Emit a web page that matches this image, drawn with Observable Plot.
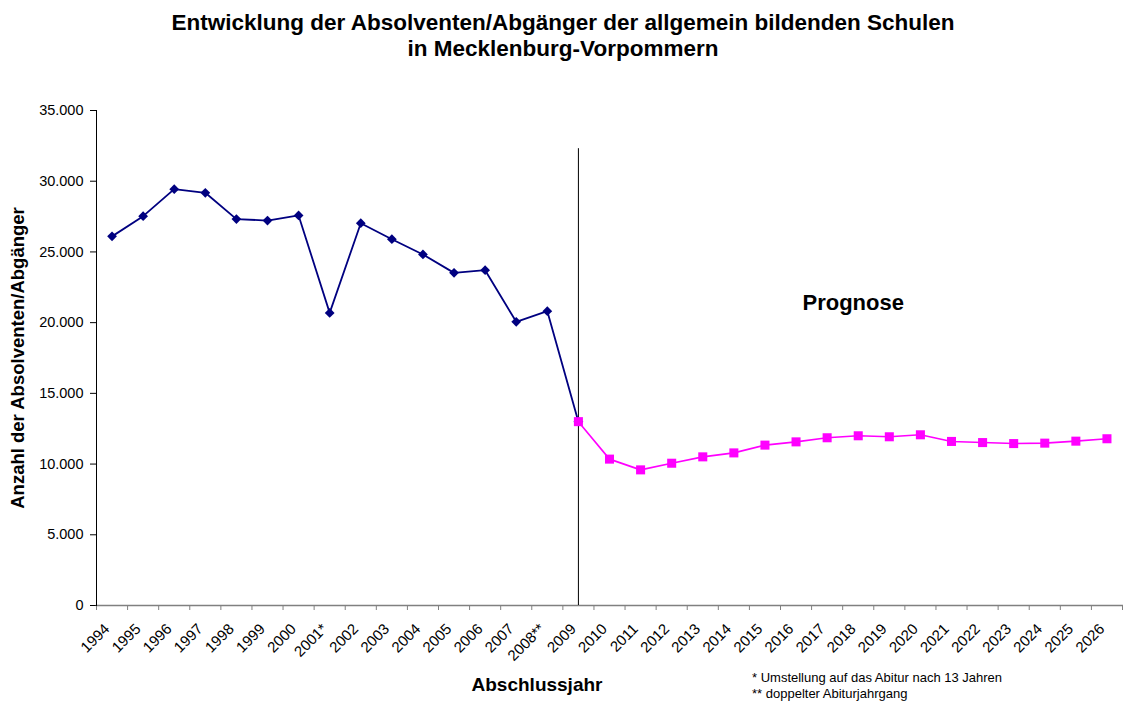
<!DOCTYPE html>
<html>
<head>
<meta charset="utf-8">
<script src="https://cdn.jsdelivr.net/npm/d3@7"></script>
<script src="https://cdn.jsdelivr.net/npm/@observablehq/plot@0.6"></script>
<style>
  html, body { margin: 0; padding: 0; background: #fff; }
  body { font-family: "Liberation Sans", Arial, sans-serif; color: #000; }
  #wrap { position: relative; width: 1123px; height: 702px; overflow: hidden; }
  #title { position: absolute; left: 0; top: 10px; width: 1126px; text-align: center; font-weight: bold; font-size: 22.5px; line-height: 26px; }
  #chart { position: absolute; left: 0; top: 70px; }
  #xlabel { position: absolute; left: 437px; width: 200px; top: 674px; text-align: center; font-weight: bold; font-size: 19px; }
  #notes { position: absolute; left: 752px; top: 670px; font-size: 13px; line-height: 16px; }
</style>
</head>
<body>
<div id="wrap">
  <div id="title">Entwicklung der Absolventen/Abgänger der allgemein bildenden Schulen<br>in Mecklenburg-Vorpommern</div>
  <div id="chart"></div>
  <div id="xlabel">Abschlussjahr</div>
  <div id="notes">* Umstellung auf das Abitur nach 13 Jahren<br>** doppelter Abiturjahrgang</div>
</div>
<script>
const years = ["1994","1995","1996","1997","1998","1999","2000","2001*","2002","2003","2004","2005","2006","2007","2008**","2009","2010","2011","2012","2013","2014","2015","2016","2017","2018","2019","2020","2021","2022","2023","2024","2025","2026"];
const actualYears = ["1994","1995","1996","1997","1998","1999","2000","2001*","2002","2003","2004","2005","2006","2007","2008**","2009"];
const actualValues = [26100, 27530, 29440, 29180, 27320, 27220, 27580, 20690, 27030, 25900, 24820, 23520, 23710, 20060, 20810, 13000];
const forecastYears = ["2009","2010","2011","2012","2013","2014","2015","2016","2017","2018","2019","2020","2021","2022","2023","2024","2025","2026"];
const forecastValues = [13000, 10350, 9590, 10060, 10510, 10790, 11340, 11570, 11860, 12000, 11930, 12070, 11600, 11520, 11450, 11480, 11620, 11790];
const yTicks = [0, 5000, 10000, 15000, 20000, 25000, 30000, 35000];
const dividerYear = "2009";
const dividerTop = 32300;
const noteLabel = "Prognose";
const noteYear = "2018";
const noteValue = 21400;
const yLabel = "Anzahl der Absolventen/Abgänger";

const idx = y => years.indexOf(y);
const actual = actualYears.map((y, i) => ({x: idx(y), v: actualValues[i]}));
const forecast = forecastYears.map((y, i) => ({x: idx(y), v: forecastValues[i]}));
const de = d3.formatLocale({decimal: ",", thousands: ".", grouping: [3], currency: ["", " €"]});
const fmt = de.format(",d");

const chart = Plot.plot({
  width: 1123,
  height: 632,
  marginTop: 40,
  marginBottom: 97,
  marginLeft: 96,
  marginRight: 1,
  style: {fontFamily: '"Liberation Sans", Arial, sans-serif', fontSize: "14px", color: "#000", background: "#fff"},
  x: {type: "linear", domain: [-0.5, years.length - 0.5]},
  y: {domain: [0, 35000]},
  marks: [
    Plot.axisY({ticks: yTicks, tickFormat: fmt, tickSize: 6, tickPadding: 7, label: null, fontSize: 14.5}),
    Plot.axisX({ticks: d3.range(years.length + 1).map(i => i - 0.5), tickFormat: () => "", tickSize: 5, stroke: "#808080", label: null}),
    Plot.axisX({ticks: d3.range(years.length), tickFormat: i => years[i], tickSize: 0, tickPadding: 21, dx: -5, tickRotate: -45, label: null, fontSize: 15}),
    Plot.frame({anchor: "bottom", stroke: "#808080", strokeWidth: 1.5}),
    Plot.frame({anchor: "left", stroke: "#000"}),
    Plot.ruleX([dividerYear], {x: d => idx(d), y1: 0, y2: dividerTop, stroke: "#000", strokeWidth: 1}),
    Plot.line(actual, {x: "x", y: "v", stroke: "#000080", strokeWidth: 1.8}),
    Plot.dot(actual, {x: "x", y: "v", symbol: "diamond2", r: 4.4, fill: "#000080", stroke: "none"}),
    Plot.line(forecast, {x: "x", y: "v", stroke: "#FF00FF", strokeWidth: 1.6}),
    Plot.dot(forecast, {x: "x", y: "v", symbol: "square", r: 5.1, fill: "#FF00FF", stroke: "none"}),
    Plot.text([noteLabel], {x: () => idx(noteYear), y: () => noteValue, text: d => d, dx: -5, fontSize: 22, fontWeight: "bold", fill: "#000"}),
    Plot.text([yLabel], {frameAnchor: "left", text: d => d, rotate: -90, dx: -78, textAnchor: "middle", lineAnchor: "middle", fontSize: 18.5, fontWeight: "bold", fill: "#000"})
  ]
});
document.getElementById("chart").appendChild(chart);
</script>
</body>
</html>
